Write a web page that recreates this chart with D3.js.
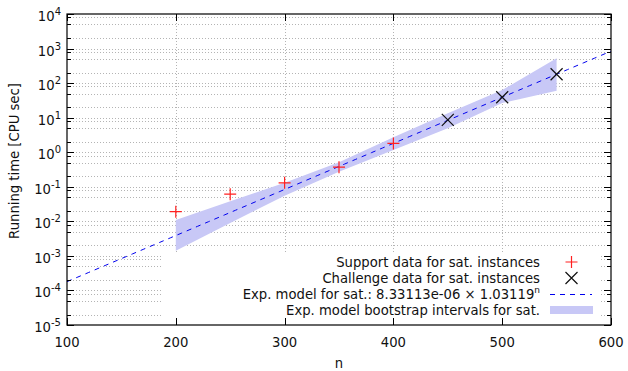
<!DOCTYPE html>
<html>
<head>
<meta charset="utf-8">
<script src="https://cdn.jsdelivr.net/npm/d3@7"></script>
<style>
  body { margin: 0; background: #fff; }
  svg { font-family: "DejaVu Sans", sans-serif; }
</style>
</head>
<body>
<div id="chart"></div>
<script>
// data
var supportN = [200, 250, 300, 350, 400];
var supportT = [0.019, 0.061, 0.13, 0.37, 1.8];
var challengeN = [450, 500, 550];
var challengeT = [8.6, 39, 180];
var bandN = [200, 250, 300, 350, 400, 450, 500, 550];
var bandLo = [0.00142, 0.009, 0.055, 0.27, 1.16, 4.9, 26.6, 60];
var bandHi = [0.0109, 0.038, 0.13, 0.51, 2.7, 13.4, 63, 523];
var modelA = 8.33113e-06, modelB = 1.03119;
var xTicks = [100, 200, 300, 400, 500, 600];
var yExps = [-5, -4, -3, -2, -1, 0, 1, 2, 3, 4];
var legendLabels = [
  "Support data for sat. instances",
  "Challenge data for sat. instances",
  "Exp. model for sat.: 8.33113e-06 \u00d7 1.03119",
  "Exp. model bootstrap intervals for sat."
];

var width = 628, height = 371;
var x = d3.scaleLinear().domain([100, 600]).range([67, 611]);
var y = d3.scaleLog().domain([1e-5, 1e4]).range([325, 14]);

var svg = d3.select("#chart").append("svg")
    .attr("width", width)
    .attr("height", height);

// minor values: 2, 5, 8 per decade
var minors = [];
yExps.slice(0, -1).forEach(function(e) {
  [2, 5, 8].forEach(function(m) { minors.push(m * Math.pow(10, e)); });
});

// grid
var grid = svg.append("g").attr("stroke", "#b4b4b4").attr("stroke-dasharray", "1,2");
yExps.map(function(e) { return Math.pow(10, e); }).concat(minors).forEach(function(v) {
  if (v <= 1e-5 || v >= 1e4) return;
  grid.append("line")
    .attr("x1", x(100)).attr("x2", x(600))
    .attr("y1", Math.round(y(v)) + 0.5).attr("y2", Math.round(y(v)) + 0.5);
});
xTicks.slice(1, -1).forEach(function(v) {
  grid.append("line")
    .attr("x1", Math.round(x(v)) + 0.5).attr("x2", Math.round(x(v)) + 0.5)
    .attr("y1", y(1e4)).attr("y2", y(1e-5));
});

// bootstrap band
var area = d3.area()
    .x(function(d, i) { return x(bandN[i]); })
    .y0(function(d, i) { return y(bandLo[i]); })
    .y1(function(d, i) { return y(bandHi[i]); });
svg.append("path")
    .datum(bandN)
    .attr("d", area)
    .attr("fill", "#c8c8f6");

// model line
var modelN = d3.range(100, 601, 5);
var line = d3.line()
    .x(function(n) { return x(n); })
    .y(function(n) { return y(modelA * Math.pow(modelB, n)); });
svg.append("path")
    .datum(modelN)
    .attr("d", line)
    .attr("fill", "none")
    .attr("stroke", "#0000ee")
    .attr("stroke-width", 1)
    .attr("stroke-dasharray", "5,5");

function plus(g, cx, cy, r, color) {
  g.append("path")
    .attr("d", "M" + (cx - r) + "," + cy + "H" + (cx + r) + "M" + cx + "," + (cy - r) + "V" + (cy + r))
    .attr("stroke", color).attr("stroke-width", 1.2).attr("fill", "none");
}
function cross(g, cx, cy, r, color) {
  g.append("path")
    .attr("d", "M" + (cx - r) + "," + (cy - r) + "L" + (cx + r) + "," + (cy + r) +
               "M" + (cx - r) + "," + (cy + r) + "L" + (cx + r) + "," + (cy - r))
    .attr("stroke", color).attr("stroke-width", 1.2).attr("fill", "none");
}

var pts = svg.append("g");
supportN.forEach(function(n, i) { plus(pts, x(n), y(supportT[i]), 6, "#ff2020"); });
challengeN.forEach(function(n, i) { cross(pts, x(n), y(challengeT[i]), 6, "#111"); });

// legend
svg.append("rect")
    .attr("x", 163).attr("y", 252).attr("width", 438).attr("height", 73)
    .attr("fill", "#fff");
var lg = svg.append("g").attr("font-size", 13.2).attr("fill", "#111");
var rowY = [262, 278, 294, 310];
legendLabels.forEach(function(t, i) {
  var txt = lg.append("text")
    .attr("x", 540).attr("y", rowY[i])
    .attr("dy", "0.35em")
    .attr("text-anchor", "end")
    .text(t);
  if (i === 2) {
    txt.append("tspan").attr("font-size", 9).attr("dy", "-0.6em").text("n");
  }
});
plus(lg, 571.5, rowY[0], 6, "#ff2020");
cross(lg, 571.5, rowY[1], 6, "#111");
lg.append("line")
    .attr("x1", 550).attr("x2", 592).attr("y1", rowY[2] + 0.5).attr("y2", rowY[2] + 0.5)
    .attr("stroke", "#0000ee").attr("stroke-dasharray", "5,5");
lg.append("rect")
    .attr("x", 550).attr("y", rowY[3] - 4).attr("width", 43).attr("height", 8)
    .attr("fill", "#c8c8f6");

// border and ticks
var ax = svg.append("g").attr("stroke", "#000").attr("fill", "none");
ax.append("rect")
    .attr("x", x(100)).attr("y", y(1e4))
    .attr("width", x(600) - x(100)).attr("height", y(1e-5) - y(1e4))
    .attr("stroke-width", 1.2);
yExps.forEach(function(e) {
  var yy = Math.round(y(Math.pow(10, e))) + 0.5;
  ax.append("line").attr("x1", x(100)).attr("x2", x(100) + 7).attr("y1", yy).attr("y2", yy);
  ax.append("line").attr("x1", x(600)).attr("x2", x(600) - 7).attr("y1", yy).attr("y2", yy);
});
minors.forEach(function(v) {
  var yy = Math.round(y(v)) + 0.5;
  ax.append("line").attr("x1", x(100)).attr("x2", x(100) + 4).attr("y1", yy).attr("y2", yy);
  ax.append("line").attr("x1", x(600)).attr("x2", x(600) - 4).attr("y1", yy).attr("y2", yy);
});
xTicks.forEach(function(v) {
  var xx = Math.round(x(v)) + 0.5;
  ax.append("line").attr("x1", xx).attr("x2", xx).attr("y1", y(1e-5)).attr("y2", y(1e-5) - 7);
  ax.append("line").attr("x1", xx).attr("x2", xx).attr("y1", y(1e4)).attr("y2", y(1e4) + 7);
});

// tick labels
var lab = svg.append("g").attr("font-size", 13.2).attr("fill", "#111");
xTicks.forEach(function(v) {
  lab.append("text").attr("x", x(v)).attr("y", 347)
    .attr("text-anchor", "middle").text(v);
});
yExps.forEach(function(e) {
  var t = lab.append("text")
    .attr("x", 61).attr("y", y(Math.pow(10, e)) + 7)
    .attr("text-anchor", "end");
  t.append("tspan").text("10");
  t.append("tspan").attr("font-size", 10).attr("dy", -6).text(e);
});

// axis titles
lab.append("text")
    .attr("x", x(350)).attr("y", 368)
    .attr("text-anchor", "middle").text("n");
lab.append("text")
    .attr("transform", "translate(19,161) rotate(-90)")
    .attr("text-anchor", "middle").text("Running time [CPU sec]");
</script>
</body>
</html>
